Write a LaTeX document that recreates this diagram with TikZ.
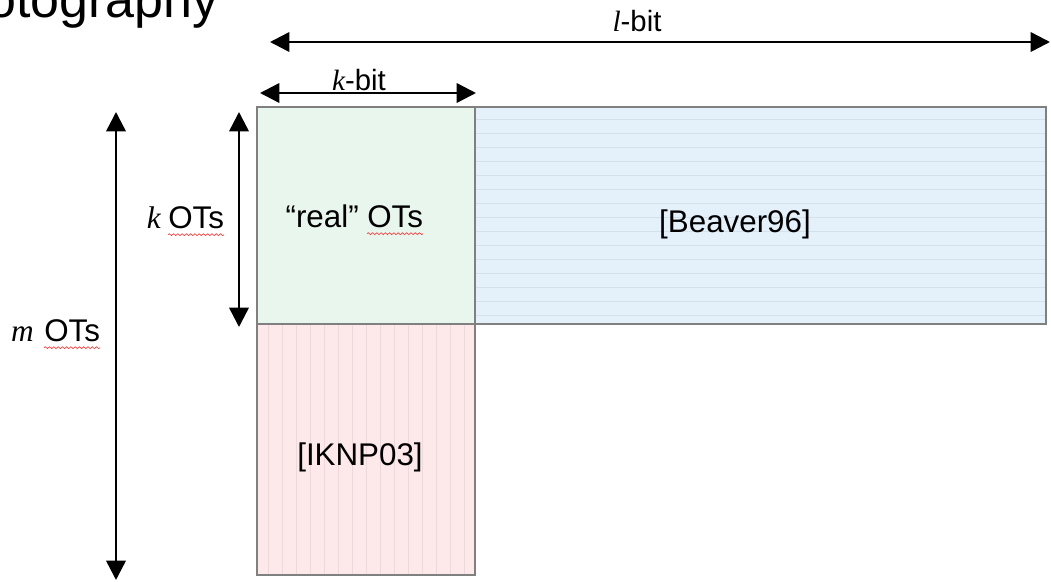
\documentclass[tikz,border=0pt]{standalone}
\usepackage{fontspec}
\setmainfont{Liberation Sans}
\newfontfamily\tms{Liberation Serif}
\usetikzlibrary{arrows.meta,decorations.pathmorphing}
\definecolor{boxgray}{HTML}{808080}
\definecolor{gfill}{HTML}{E8F6EE}
\definecolor{bfill}{HTML}{E4F0FA}
\definecolor{pfill}{HTML}{FDE9EA}
\definecolor{bline}{HTML}{D3E1EC}
\definecolor{pline}{HTML}{EDD9DB}
\definecolor{squigred}{HTML}{F03C3C}
\begin{document}
\begin{tikzpicture}[x=0.75pt,y=-0.75pt,
  boxedge/.style={draw=boxgray,line width=2pt},
  dimarrow/.style={line width=1.9pt,{Triangle[length=14.5pt,width=14.5pt]}-{Triangle[length=14.5pt,width=14.5pt]}},
  lbl/.style={font=\fontsize{23.5}{28}\selectfont,inner sep=0pt},
  bitlbl/.style={font=\fontsize{22}{26}\selectfont,inner sep=0pt},
  squig/.style={draw=squigred,line width=0.5pt,decorate,decoration={snake,amplitude=0.7pt,segment length=3.2pt}}]
\useasboundingbox (0,0) rectangle (1051,582);

% title fragment
\node[anchor=base west,inner sep=0pt,font=\fontsize{39}{44}\selectfont] (title) at (-13,17) {otography};

% box corners
\coordinate (g1) at (257,107); \coordinate (g2) at (475,324);
\coordinate (b1) at (475,107); \coordinate (b2) at (1046,324);
\coordinate (p1) at (257,324); \coordinate (p2) at (475,575);

% fills
\fill[gfill] (g1) rectangle (g2);
\fill[bfill] (b1) rectangle (b2);
\fill[pfill] (p1) rectangle (p2);
% patterns
\foreach \yy in {119,133,...,318} \draw[bline,line width=0.6pt] (475,\yy) -- (1046,\yy);
\foreach \xx in {268,282,...,470} \draw[pline,line width=0.6pt] (\xx,324) -- (\xx,575);
% borders
\draw[boxedge] (g1) rectangle (g2);
\draw[boxedge] (b1) rectangle (b2);
\draw[boxedge] (p1) rectangle (p2);

% dimension arrows
\coordinate (la) at (270,42); \coordinate (lb) at (1050,42);
\coordinate (ka) at (260,93); \coordinate (kb) at (476,93);
\coordinate (kta) at (239,112); \coordinate (ktb) at (239,327);
\coordinate (mta) at (116,112); \coordinate (mtb) at (116,580);
\draw[dimarrow] (la) -- (lb);
\draw[dimarrow] (ka) -- (kb);
\draw[dimarrow] (kta) -- (ktb);
\draw[dimarrow] (mta) -- (mtb);

% labels
\node[bitlbl,anchor=base] (lbit) at (637,31) {{\tms\itshape l}-bit};
\node[bitlbl,anchor=base] (kbit) at (359,90) {{\tms\itshape k}-bit};

\node[lbl,anchor=base east] (kk) at (161,228) {\tms\itshape k};
\node[lbl,anchor=base west] (kots) at (168,228) {OTs};
\draw[squig] ([yshift=-5pt]kots.base west) -- ([yshift=-5pt]kots.base east);

\node[lbl,anchor=base east] (mm) at (34,341) {\tms\itshape m};
\node[lbl,anchor=base west] (mots) at (44,341) {OTs};
\draw[squig] ([yshift=-5pt]mots.base west) -- ([yshift=-5pt]mots.base east);

\node[lbl,anchor=base east] (real) at (359,227) {“real”};
\node[lbl,anchor=base west] (rots) at (367,227) {OTs};
\draw[squig] ([yshift=-5pt]rots.base west) -- ([yshift=-5pt]rots.base east);

\node[lbl,anchor=base] (beaver) at (735,232) {[Beaver96]};
\node[lbl,anchor=base] (iknp) at (360,465) {[IKNP03]};
\end{tikzpicture}
\end{document}
